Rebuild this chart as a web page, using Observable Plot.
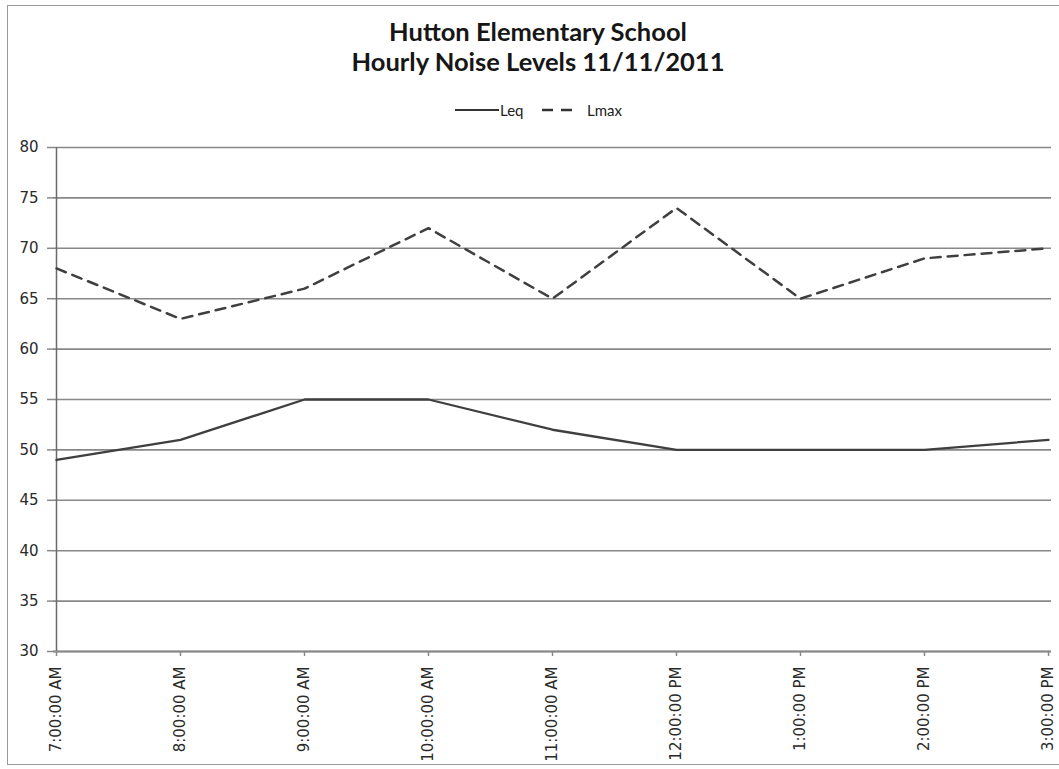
<!DOCTYPE html>
<html>
<head>
<meta charset="utf-8">
<script src="https://cdn.jsdelivr.net/npm/d3@7"></script>
<script src="https://cdn.jsdelivr.net/npm/@observablehq/plot@0.6"></script>
<style>
  html, body { margin: 0; padding: 0; background: #fff; overflow: hidden; }
  #wrap { position: relative; width: 1059px; height: 769px; overflow: hidden; background: #fff; }
  #frame { position: absolute; left: 7px; top: 5px; width: 1100px; height: 760px; border: 1.5px solid #9a9a9a; box-sizing: border-box; pointer-events: none; }
  #head { position: relative; height: 126px; }
  #title { position: absolute; left: 0; width: 1076px; top: 16px; text-align: center; font-family: Lato, "Open Sans", sans-serif; font-weight: 700; font-size: 25.5px; line-height: 30px; color: #161616; }
  .leg { position: absolute; top: 100px; height: 20px; line-height: 20px; font-family: Lato, "Open Sans", sans-serif; font-size: 15px; color: #222; }
  .sw { position: absolute; top: 100px; }
  #chart svg { display: block; }
  #chart svg text { font-family: "DejaVu Sans", Verdana, sans-serif; }
</style>
</head>
<body>
<div id="wrap">
  <div id="head">
    <div id="title">Hutton Elementary School<br>Hourly Noise Levels 11/11/2011</div>
    <svg class="sw" style="left:455px" width="44" height="20"><line x1="0" x2="44" y1="10" y2="10" stroke="#333" stroke-width="2.2"/></svg>
    <div class="leg" style="left:500px">Leq</div>
    <svg class="sw" style="left:542px" width="31" height="20"><line x1="0" x2="31" y1="10" y2="10" stroke="#333" stroke-width="2.4" stroke-dasharray="11,8"/></svg>
    <div class="leg" style="left:587px">Lmax</div>
  </div>
  <div id="chart"></div>
  <div id="frame"></div>
</div>
<script>
const hours = ["7:00:00 AM", "8:00:00 AM", "9:00:00 AM", "10:00:00 AM", "11:00:00 AM",
               "12:00:00 PM", "1:00:00 PM", "2:00:00 PM", "3:00:00 PM"];
const leq  = [49, 51, 55, 55, 52, 50, 50, 50, 51];
const lmax = [68, 63, 66, 72, 65, 74, 65, 69, 70];
const yTicks = [30, 35, 40, 45, 50, 55, 60, 65, 70, 75, 80];

const leqData = hours.map((h, i) => ({hour: h, value: leq[i]}));
const lmaxData = hours.map((h, i) => ({hour: h, value: lmax[i]}));

const chart = Plot.plot({
  width: 1059,
  height: 643,
  marginTop: 21,
  marginBottom: 118,
  marginLeft: 53,
  marginRight: 8,
  style: {fontFamily: "DejaVu Sans, Verdana, sans-serif", color: "#2a2a2a", background: "transparent", overflow: "visible"},
  x: {type: "point", domain: hours, padding: 0},
  y: {domain: [30, 80]},
  marks: [
    Plot.ruleY(yTicks, {stroke: "#888", strokeWidth: 1.6, strokeOpacity: 1}),
    Plot.axisY({ticks: yTicks, tickSize: 6, tickPadding: 9, stroke: "#888", strokeWidth: 1.5, fontSize: 15, fill: "#2a2a2a", label: null}),
    Plot.ruleX([hours[0]], {stroke: "#6a6a6a", strokeWidth: 1.5}),
    Plot.ruleY([30], {stroke: "#888", strokeWidth: 2}),
    Plot.axisX({tickRotate: -90, tickSize: 5, tickPadding: 10, stroke: "#888", strokeWidth: 1.5, fontSize: 15, fill: "#2a2a2a", label: null}),
    Plot.line(leqData, {x: "hour", y: "value", stroke: "#3f3f3f", strokeWidth: 2.3}),
    Plot.line(lmaxData, {x: "hour", y: "value", stroke: "#3f3f3f", strokeWidth: 2.5, strokeDasharray: "10,7"})
  ]
});
document.getElementById("chart").appendChild(chart);
</script>
</body>
</html>
